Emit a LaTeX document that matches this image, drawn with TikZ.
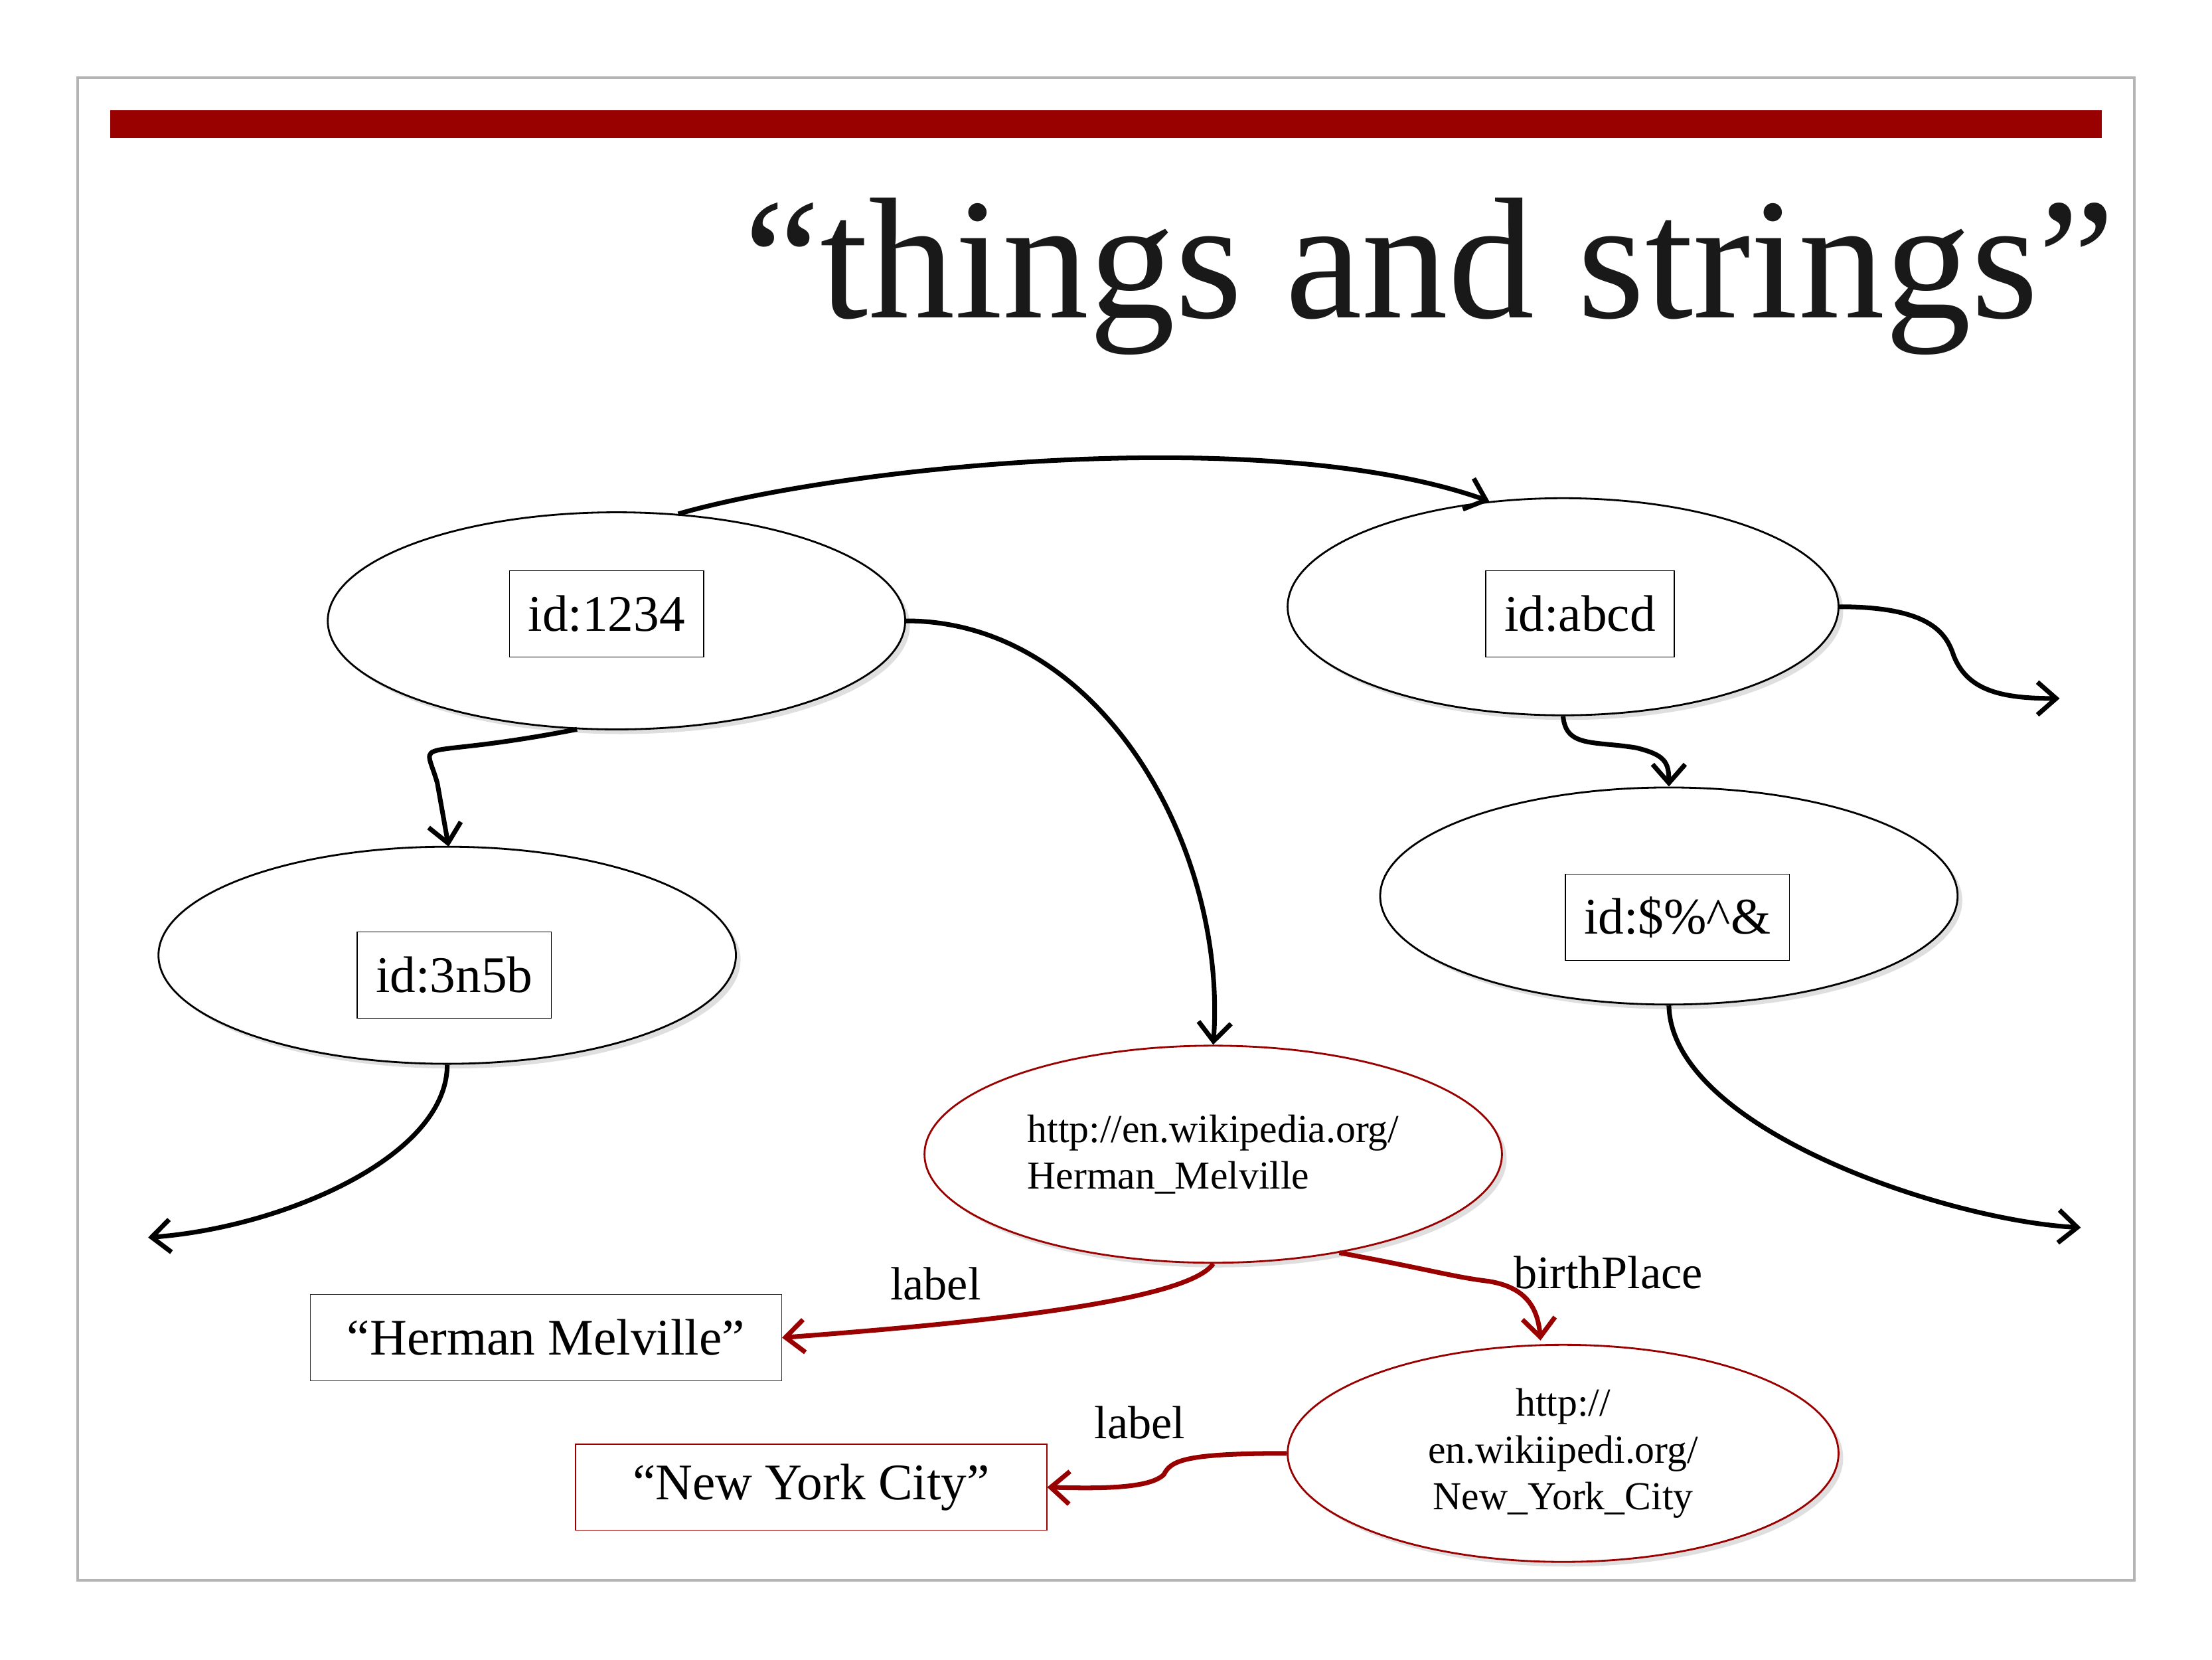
\documentclass[tikz,border=0pt]{standalone}
\usepackage{fontspec}
\setmainfont{Liberation Serif}
\usetikzlibrary{shapes.geometric, arrows.meta, shadows}
\definecolor{darkred}{RGB}{153,0,0}
\definecolor{frame}{RGB}{180,180,180}
\tikzstyle{thing} = [ellipse, draw=black, thick, fill=white, minimum width=8.7cm, minimum height=3.27cm, drop shadow={shadow xshift=2pt, shadow yshift=-2pt, fill=black!25}]
\tikzstyle{page} = [ellipse, draw=darkred, thick, fill=white, minimum width=8.7cm, minimum height=3.27cm, align=left, font=\fontsize{17}{20}\selectfont, drop shadow={shadow xshift=2pt, shadow yshift=-2pt, fill=black!25}]
\tikzstyle{idbox} = [rectangle, draw=black, minimum height=1.3cm, inner xsep=8pt, font=\fontsize{22}{26}\selectfont]
\tikzstyle{strbox} = [rectangle, draw=darkred, minimum height=1.3cm, minimum width=7.1cm, font=\fontsize{22}{26}\selectfont]
\tikzstyle{arrow} = [line width=2pt, -{Straight Barb[length=8pt, width=14pt]}]
\tikzstyle{redarrow} = [arrow, draw=darkred]
\tikzstyle{edgelabel} = [font=\fontsize{20}{24}\selectfont]

\begin{document}
\begin{tikzpicture}[x=0.02125cm, y=-0.02125cm]
        \useasboundingbox (0,0) rectangle (1568,1176);
        \draw [frame, line width=1pt] (55,55) rectangle (1513,1120);
        \fill [darkred] (78,78) rectangle (1490,98);
        \node (title) [anchor=base east, font=\fontsize{74}{80}\selectfont, text=black!90] at (1505,225) {“things and strings”};

        \node (e1234) [thing] at (437,440) {};
        \node (eabcd) [thing, minimum width=8.3cm] at (1108,430) {};
        \node (e3n5b) [thing] at (317,677) {};
        \node (esym) [thing] at (1183,635) {};
        \node (ehm) [page] at (860,818) {http://en.wikipedia.org/\\Herman\_Melville};
        \node (enyc) [page, minimum width=8.3cm, align=center] at (1108,1030) {http://\\en.wikiipedi.org/\\New\_York\_City};

        \node (b1234) [idbox] at (430,435) {id:1234};
        \node (babcd) [idbox] at (1120,435) {id:abcd};
        \node (b3n5b) [idbox] at (322,691) {id:3n5b};
        \node (bsym) [idbox] at (1189,650) {id:\$\%\^{}\&};

        \node (shm) [strbox] at (387,948) {“Herman Melville”};
        \node (snyc) [strbox] at (575,1054) {“New York City”};

        \coordinate (endA) at (1460,495);
        \coordinate (endB) at (1475,870);
        \coordinate (endC) at (105,877);

        \draw [arrow] (e1234.60) .. controls (600,330) and (900,300) .. (eabcd.125);
        \draw [arrow] (e1234.east) .. controls (780,440) and (870,600) .. (ehm.north);
        \draw [arrow] (e1234.250) .. controls (290,540) and (300,520) .. (310,555) -- (318,600);
        \draw [arrow] (eabcd.270) .. controls (1110,530) and (1130,525) .. (1160,530) .. controls (1180,535) and (1183,540) .. (esym.north);
        \draw [arrow] (eabcd.east) .. controls (1370,430) and (1380,450) .. (1385,465) .. controls (1395,490) and (1420,495) .. (endA);
        \draw [arrow] (esym.south) .. controls (1185,800) and (1380,865) .. (endB);
        \draw [arrow] (e3n5b.south) .. controls (317,820) and (200,870) .. (endC);

        \draw [redarrow] (ehm.south) .. controls (840,925) and (660,940) .. (shm.east) node[pos=0.7, above=6pt, edgelabel, text=black] {label};
        \draw [redarrow] (ehm.-38) .. controls (1015,900) and (1030,905) .. (1055,908) .. controls (1080,912) and (1090,925) .. (1092,950);
        \node (lbirth) [edgelabel] at (1140,902) {birthPlace};
        \draw [redarrow] (enyc.west) .. controls (840,1030) and (830,1035) .. (825,1045) .. controls (815,1055) and (780,1055) .. (snyc.east);
        \node (lnyc) [edgelabel] at (808,1008) {label};
    \end{tikzpicture}
\end{document}
